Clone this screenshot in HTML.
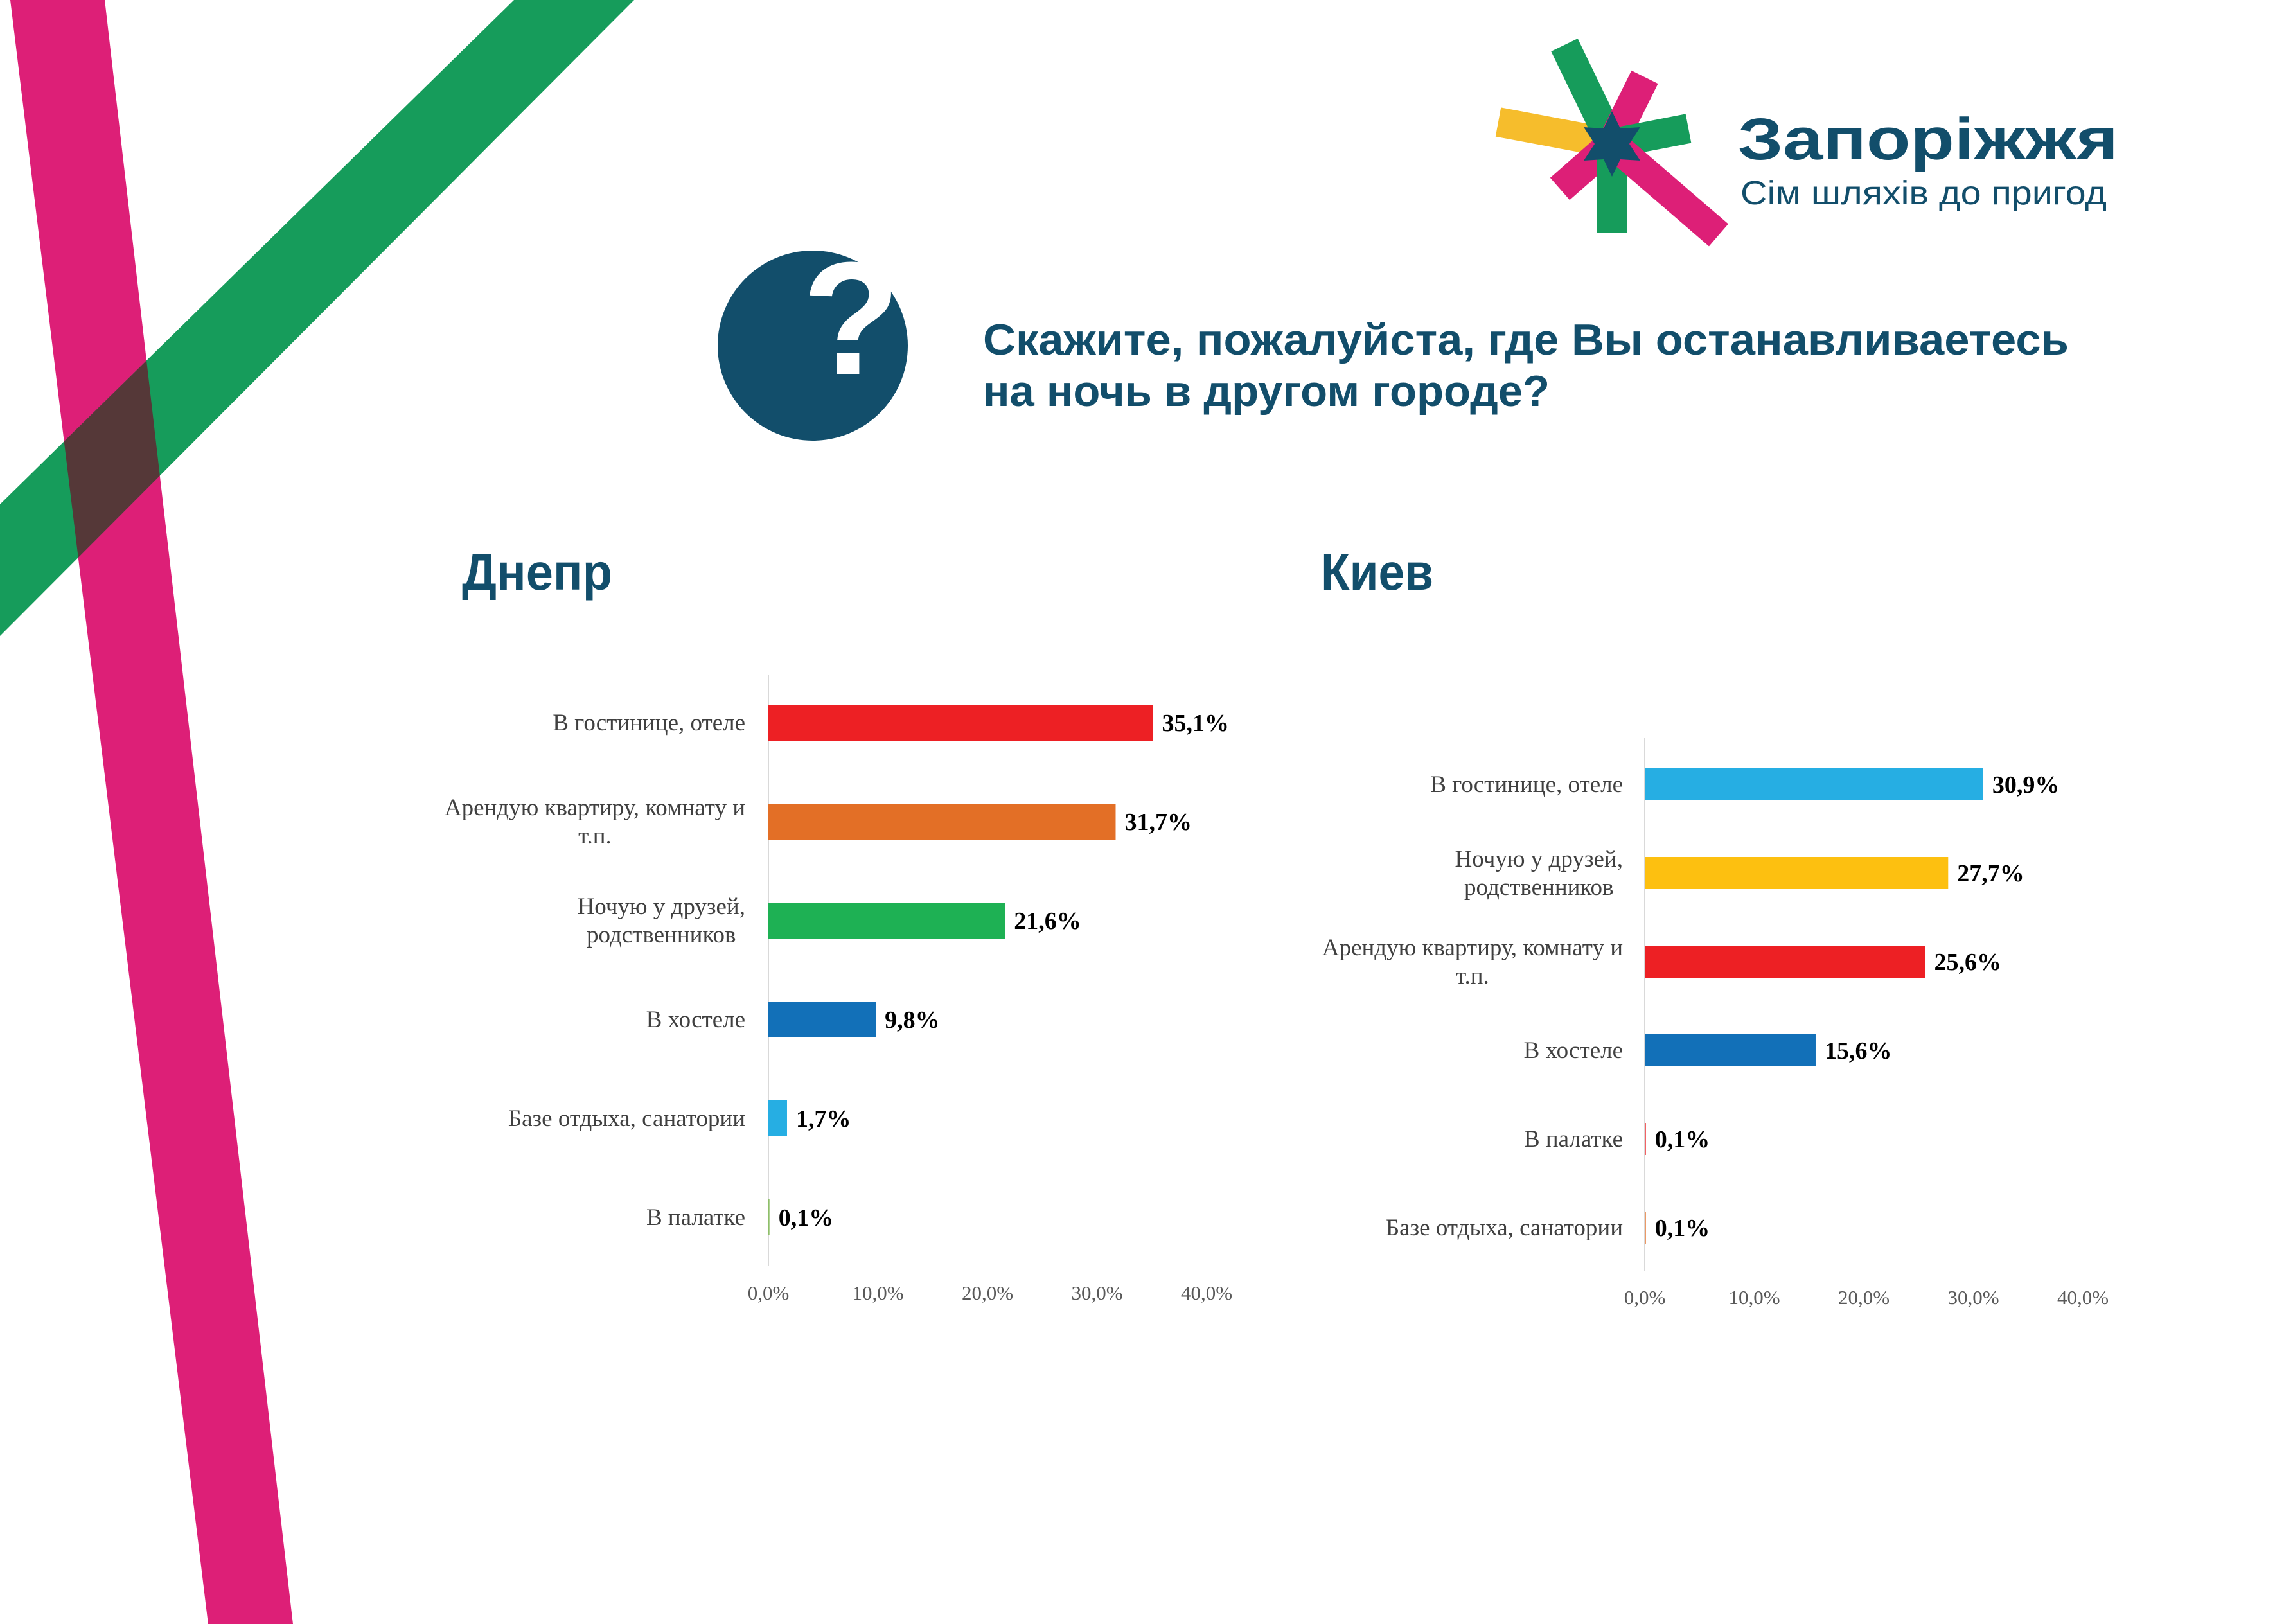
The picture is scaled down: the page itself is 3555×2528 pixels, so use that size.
<!DOCTYPE html>
<html><head><meta charset="utf-8">
<style>
html,body{margin:0;padding:0;background:#fff;}
svg{display:block;}
.lbl{font-family:"Liberation Serif",serif;font-size:37px;fill:#404040;}
.val{font-family:"Liberation Serif",serif;font-size:38px;font-weight:bold;fill:#000;}
.tick{font-family:"Liberation Serif",serif;font-size:31px;fill:#595959;}
.hd{font-family:"Liberation Sans",sans-serif;font-weight:bold;fill:#124e6b;}
</style></head>
<body>
<svg id="root" width="3555" height="2528" viewBox="0 0 3555 2528" xmlns="http://www.w3.org/2000/svg">
  <defs>
    <clipPath id="pinkClip"><polygon points="16,0 163,0 456,2528 324,2528"/></clipPath>
  </defs>
  <g>
    <polygon points="16,0 163,0 456,2528 324,2528" fill="#dd1f77"/>
    <polygon points="800,0 987,0 0,990 0,785" fill="#169c5b"/>
    <polygon points="800,0 987,0 0,990 0,785" fill="#553838" clip-path="url(#pinkClip)"/>
  </g>

  <g>
    <g stroke-linecap="butt">
      <line x1="2509" y1="223" x2="2332" y2="190" stroke="#f6bd2c" stroke-width="46"/>
      <line x1="2509" y1="223" x2="2435" y2="70" stroke="#169c5b" stroke-width="46"/>
      <line x1="2509" y1="223" x2="2560" y2="120" stroke="#dd1f77" stroke-width="46"/>
      <line x1="2509" y1="223" x2="2628" y2="200" stroke="#169c5b" stroke-width="46"/>
      <line x1="2509" y1="223" x2="2428" y2="294" stroke="#dd1f77" stroke-width="46"/>
      <line x1="2509" y1="223" x2="2509" y2="362" stroke="#169c5b" stroke-width="47"/>
      <line x1="2509" y1="223" x2="2675" y2="366" stroke="#dd1f77" stroke-width="46"/>
    </g>
    <polygon fill="#124e6b"
      points="2509,173 2522,200 2553,198 2536,224 2553,250 2522,248 2509,275 2496,248 2465,250 2482,224 2465,198 2496,200"/>
    <text class="hd" x="2705" y="248" font-size="92" textLength="592" lengthAdjust="spacingAndGlyphs">Запоріжжя</text>
    <text x="2709" y="318" font-family="Liberation Sans, sans-serif" font-size="52" fill="#124e6b" textLength="570" lengthAdjust="spacingAndGlyphs">Сім шляхів до пригод</text>
  </g>

  <g>
    <circle cx="1265" cy="538" r="148" fill="#124e6b"/>
    <text x="1325" y="582" text-anchor="middle" font-family="Liberation Sans, sans-serif" font-weight="bold" font-size="250" fill="#fff">?</text>
  </g>
  <text class="hd" x="1530" y="552" font-size="68" textLength="1690" lengthAdjust="spacingAndGlyphs">Скажите, пожалуйста, где Вы останавливаетесь</text>
  <text class="hd" x="1530" y="632" font-size="68" textLength="882" lengthAdjust="spacingAndGlyphs">на ночь в другом городе?</text>

  <text class="hd" x="719" y="918" font-size="80" textLength="234" lengthAdjust="spacingAndGlyphs">Днепр</text>
  <text class="hd" x="2056" y="918" font-size="80" textLength="175" lengthAdjust="spacingAndGlyphs">Киев</text>

  <g id="chartDnepr"></g>
  <g id="chartKiev"></g>
</svg>
<script>
const dneprCategories = [["В гостинице, отеле"],["Арендую квартиру, комнату и","т.п."],["Ночую у друзей,","родственников"],["В хостеле"],["Базе отдыха, санатории"],["В палатке"]];
const dneprValues = [35.1, 31.7, 21.6, 9.8, 1.7, 0.1];
const dneprValueLabels = ["35,1%","31,7%","21,6%","9,8%","1,7%","0,1%"];
const dneprColors = ["#ed2024","#e36f26","#1eb154","#1270b8","#26aee3","#8fbf6a"];
const kievCategories = [["В гостинице, отеле"],["Ночую у друзей,","родственников"],["Арендую квартиру, комнату и","т.п."],["В хостеле"],["В палатке"],["Базе отдыха, санатории"]];
const kievValues = [30.9, 27.7, 25.6, 15.6, 0.1, 0.1];
const kievValueLabels = ["30,9%","27,7%","25,6%","15,6%","0,1%","0,1%"];
const kievColors = ["#26aee3","#fdc010","#ed2024","#1270b8","#ed2024","#e36f26"];
const tickValues = [0,10,20,30,40];
const tickLabels = ["0,0%","10,0%","20,0%","30,0%","40,0%"];

const NS = "http://www.w3.org/2000/svg";
function mk(tag, attrs, parent){
  const e = document.createElementNS(NS, tag);
  for (const k in attrs) e.setAttribute(k, attrs[k]);
  parent.appendChild(e); return e;
}
function drawChart(g, prefix, cats, vals, labels, colors, cfg){
  const xs = v => cfg.x0 + v * cfg.pxPer;
  const ys = i => cfg.y0 + i * cfg.step;
  const axis = mk('line', {x1:cfg.x0, x2:cfg.x0, y1:cfg.axTop, y2:cfg.axBot, stroke:'#d9d9d9', 'stroke-width':2}, g);
  
  
  vals.forEach((v, i) => {
    const cy = ys(i);
    const w = Math.max(xs(v) - cfg.x0, 1.5);
    const r = mk('rect', {x:cfg.x0, y:cy - cfg.bh/2, width:w, height:cfg.bh, fill:colors[i]}, g);
    
    
    const t = mk('text', {x:cfg.x0 + w + 14, y:cy + 13, class:'val'}, g);
    t.textContent = labels[i];
    
    
    const lines = cats[i];
    if (lines.length === 1) {
      const l = mk('text', {x:cfg.lx, y:cy + 12, 'text-anchor':'end', class:'lbl'}, g);
      l.textContent = lines[0];
      
      
    } else {
      const l1 = mk('text', {x:cfg.lx, y:cy - 10, 'text-anchor':'end', class:'lbl'}, g);
      l1.textContent = lines[0];
      
      
      const wd = l1.getComputedTextLength();
      const l2 = mk('text', {x:cfg.lx - wd/2, y:cy + 34, 'text-anchor':'middle', class:'lbl'}, g);
      l2.textContent = lines[1];
      
      
    }
  });
  tickValues.forEach((v, i) => {
    const t = mk('text', {x:xs(v), y:cfg.tickY, 'text-anchor':'middle', class:'tick'}, g);
    t.textContent = tickLabels[i];
    
    
  });
}
drawChart(document.getElementById('chartDnepr'), 'dnepr', dneprCategories, dneprValues, dneprValueLabels, dneprColors,
  {x0:1196, pxPer:17.05, y0:1125, step:154, bh:56, axTop:1050, axBot:1971, tickY:2023, lx:1160});
drawChart(document.getElementById('chartKiev'), 'kiev', kievCategories, kievValues, kievValueLabels, kievColors,
  {x0:2560, pxPer:17.05, y0:1221, step:138, bh:50, axTop:1149, axBot:1978, tickY:2030, lx:2526});
</script>
</body></html>
